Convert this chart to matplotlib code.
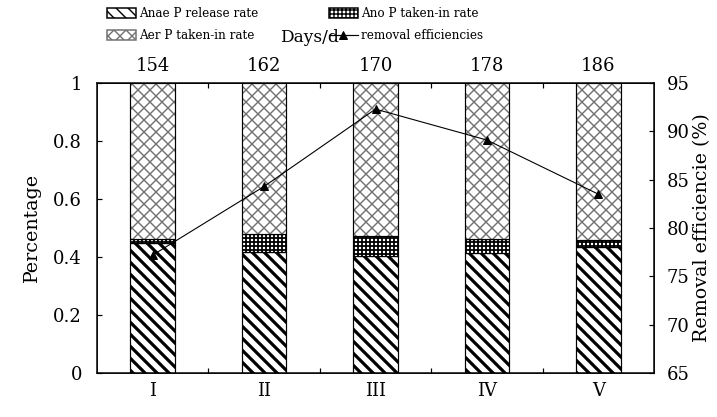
import numpy as np
import matplotlib
matplotlib.use("Agg")
import matplotlib.pyplot as plt
from matplotlib.lines import Line2D
from matplotlib.patches import Patch

groups = ["I", "II", "III", "IV", "V"]
days = ["154", "162", "170", "178", "186"]
anae = [0.448, 0.418, 0.403, 0.415, 0.433]   # Anae P release rate
ano = [0.014, 0.060, 0.069, 0.047, 0.024]    # Ano P taken-in rate
aer = [0.538, 0.522, 0.528, 0.538, 0.543]    # Aer P taken-in rate
removal = [77.2, 84.3, 92.3, 89.1, 83.5]     # removal efficiencies (%)
left_ticks = [0, 0.2, 0.4, 0.6, 0.8, 1.0]
left_labels = ["0", "0.2", "0.4", "0.6", "0.8", "1"]
right_ticks = [65, 70, 75, 80, 85, 90, 95]

plt.rcParams["font.family"] = "DejaVu Serif"

fig = plt.figure(figsize=(717 / 72, 417 / 72), dpi=72)
ax = fig.add_axes([97 / 717, 1 - 373 / 417, 557 / 717, 290 / 417])

x = np.arange(1, len(groups) + 1)
w = 0.4
mid = [a + b for a, b in zip(anae, ano)]

# hatch linewidth is picked up when each patch is created
plt.rcParams["hatch.linewidth"] = 3.2
ax.bar(x, anae, w, color="white", edgecolor="black", hatch="\\\\", lw=1.2)
h_anae = Patch(facecolor="white", edgecolor="black", hatch="\\\\", lw=1.5)

plt.rcParams["hatch.linewidth"] = 1.8
ax.bar(x, ano, w, bottom=anae, color="white", edgecolor="black", hatch="+++", lw=1.2)
h_ano = Patch(facecolor="white", edgecolor="black", hatch="+++", lw=1.5)

plt.rcParams["hatch.linewidth"] = 1.4
ax.bar(x, aer, w, bottom=mid, color="white", edgecolor="#707070", hatch="xx", lw=0)
ax.bar(x, aer, w, bottom=mid, fill=False, edgecolor="black", lw=1.2)
h_aer = Patch(facecolor="white", edgecolor="#707070", hatch="xx", lw=1.5)

ax.set_xlim(0.5, 5.5)
ax.set_ylim(0, 1)
ax.set_xticks(x, groups, fontsize=18)
ax.set_xticks(x[:-1] + 0.5, minor=True)
ax.tick_params(axis="x", which="major", length=0, pad=9)
ax.tick_params(axis="x", which="minor", direction="in", length=5, width=1.2,
               top=True, bottom=True)
ax.set_yticks(left_ticks, left_labels, fontsize=18)
ax.tick_params(axis="y", direction="in", length=5, width=1.2, pad=15)
ax.set_ylabel("Percentage", fontsize=19, labelpad=12)
for s in ax.spines.values():
    s.set_linewidth(1.5)

top = ax.secondary_xaxis("top")
top.set_xticks(x, days, fontsize=18)
top.tick_params(length=0, pad=8)

ax2 = ax.twinx()
ax2.plot(x, removal, color="black", lw=1.1, marker="^", ms=8)
ax2.set_ylim(65, 95)
ax2.set_yticks(right_ticks)
ax2.tick_params(axis="y", direction="in", length=5, width=1.2, pad=13, labelsize=18)
ax2.set_ylabel("Removal efficiencie (%)", fontsize=19, labelpad=3)
h_line = Line2D([], [], color="black", lw=1.2, marker="^", ms=8)

fig.text(310 / 717, 1 - 38 / 417, "Days/d", fontsize=17, ha="center", va="center")

leg_kw = dict(loc="upper left", frameon=False, fontsize=12, borderpad=0,
              borderaxespad=0, handlelength=2.4, handleheight=0.85,
              handletextpad=0.25, labelspacing=0.75)
fig.legend([h_anae, h_aer], ["Anae P release rate", "Aer P taken-in rate"],
           bbox_to_anchor=(107 / 717, 1 - 7 / 417), **leg_kw)
fig.legend([h_ano, h_line], ["Ano P taken-in rate", "removal efficiencies"],
           bbox_to_anchor=(329 / 717, 1 - 7 / 417), **leg_kw)

fig.savefig("out.png", dpi=72)
